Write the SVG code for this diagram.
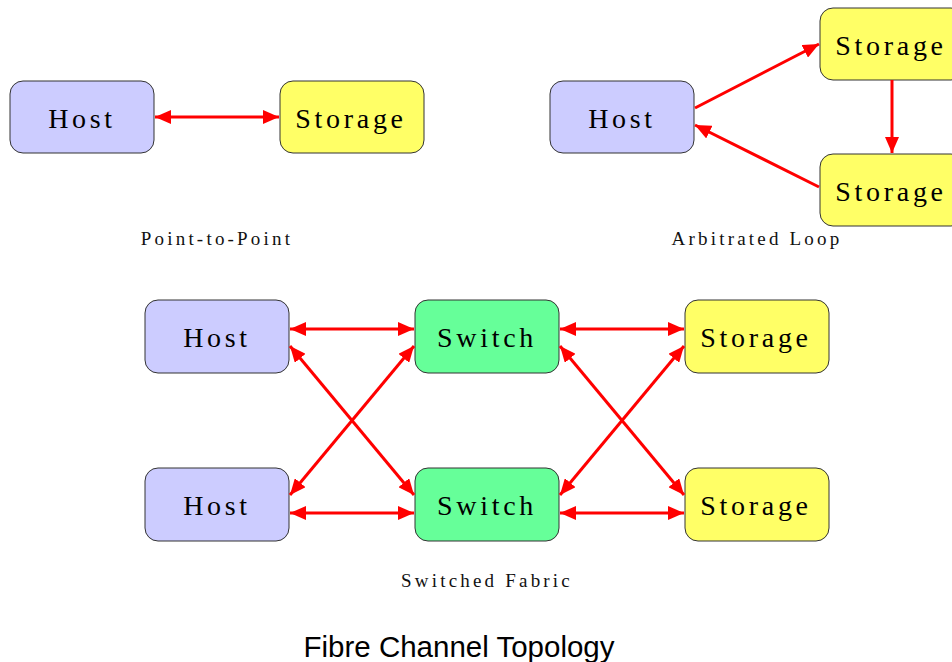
<svg xmlns="http://www.w3.org/2000/svg" width="952" height="662" viewBox="0 0 952 662">
  <style>
    .box { stroke: #333; stroke-width: 1; }
    .host { fill: #ccccff; }
    .storage { fill: #ffff66; }
    .switch { fill: #66ff99; }
    .lbl { font-family: "Liberation Serif", "Times New Roman", serif; font-size: 28px; letter-spacing: 3.7px; text-anchor: middle; fill: #000; }
    .cap { font-family: "Liberation Serif", "Times New Roman", serif; font-size: 19px; letter-spacing: 3.2px; text-anchor: middle; fill: #111; }
    .title { font-family: "Liberation Sans", Arial, sans-serif; font-size: 29.5px; text-anchor: middle; fill: #000; }
    .link { stroke: #ff0000; stroke-width: 3; fill: none; }
  </style>
  <defs>
    <marker id="ah" viewBox="0 0 16 14" refX="16" refY="7" markerWidth="16" markerHeight="14" markerUnits="userSpaceOnUse" orient="auto-start-reverse">
      <path d="M0,0 L16,7 L0,14 Z" fill="#ff0000"/>
    </marker>
  </defs>

  <rect width="952" height="662" fill="#fff"/>

  <!-- Point-to-Point -->
  <g id="p2p-host"><rect class="box host" x="10" y="81" width="144" height="72" rx="13"/><text class="lbl" x="82" y="128">Host</text></g>
  <g id="p2p-storage"><rect class="box storage" x="280" y="81" width="144" height="72" rx="13"/><text class="lbl" x="351" y="128">Storage</text></g>
  <text class="cap" x="217" y="245">Point-to-Point</text>

  <!-- Arbitrated Loop -->
  <g id="al-host"><rect class="box host" x="550" y="81" width="144" height="72" rx="13"/><text class="lbl" x="622" y="128">Host</text></g>
  <g id="al-storage-top"><rect class="box storage" x="820" y="8" width="144" height="72" rx="13"/><text class="lbl" x="891" y="55">Storage</text></g>
  <g id="al-storage-bottom"><rect class="box storage" x="820" y="154" width="144" height="72" rx="13"/><text class="lbl" x="891" y="201">Storage</text></g>
  <text class="cap" x="757" y="245">Arbitrated Loop</text>

  <!-- Switched Fabric -->
  <g id="sf-host1"><rect class="box host" x="145" y="300" width="144" height="73" rx="13"/><text class="lbl" x="217" y="347">Host</text></g>
  <g id="sf-host2"><rect class="box host" x="145" y="468" width="144" height="73" rx="13"/><text class="lbl" x="217" y="515">Host</text></g>
  <g id="sf-switch1"><rect class="box switch" x="415" y="300" width="144" height="73" rx="13"/><text class="lbl" x="487" y="347">Switch</text></g>
  <g id="sf-switch2"><rect class="box switch" x="415" y="468" width="144" height="73" rx="13"/><text class="lbl" x="487" y="515">Switch</text></g>
  <g id="sf-storage1"><rect class="box storage" x="685" y="300" width="144" height="73" rx="13"/><text class="lbl" x="756" y="347">Storage</text></g>
  <g id="sf-storage2"><rect class="box storage" x="685" y="468" width="144" height="73" rx="13"/><text class="lbl" x="756" y="515">Storage</text></g>
  <text class="cap" x="487" y="587">Switched Fabric</text>

  <text class="title" x="459" y="657">Fibre Channel Topology</text>

  <g id="connectors">
    <line class="link" x1="155" y1="117" x2="279" y2="117" marker-start="url(#ah)" marker-end="url(#ah)"/>

    <line class="link" x1="695" y1="108" x2="819" y2="44" marker-end="url(#ah)"/>
    <line class="link" x1="892" y1="80" x2="892" y2="153" marker-end="url(#ah)"/>
    <line class="link" x1="819" y1="187" x2="695" y2="125" marker-end="url(#ah)"/>

    <line class="link" x1="290" y1="329" x2="414" y2="329" marker-start="url(#ah)" marker-end="url(#ah)"/>
    <line class="link" x1="290" y1="346" x2="414" y2="495" marker-start="url(#ah)" marker-end="url(#ah)"/>
    <line class="link" x1="414" y1="346" x2="290" y2="495" marker-start="url(#ah)" marker-end="url(#ah)"/>
    <line class="link" x1="290" y1="513" x2="414" y2="513" marker-start="url(#ah)" marker-end="url(#ah)"/>

    <line class="link" x1="560" y1="329" x2="684" y2="329" marker-start="url(#ah)" marker-end="url(#ah)"/>
    <line class="link" x1="560" y1="346" x2="684" y2="495" marker-start="url(#ah)" marker-end="url(#ah)"/>
    <line class="link" x1="684" y1="346" x2="560" y2="495" marker-start="url(#ah)" marker-end="url(#ah)"/>
    <line class="link" x1="560" y1="513" x2="684" y2="513" marker-start="url(#ah)" marker-end="url(#ah)"/>
  </g>
</svg>
